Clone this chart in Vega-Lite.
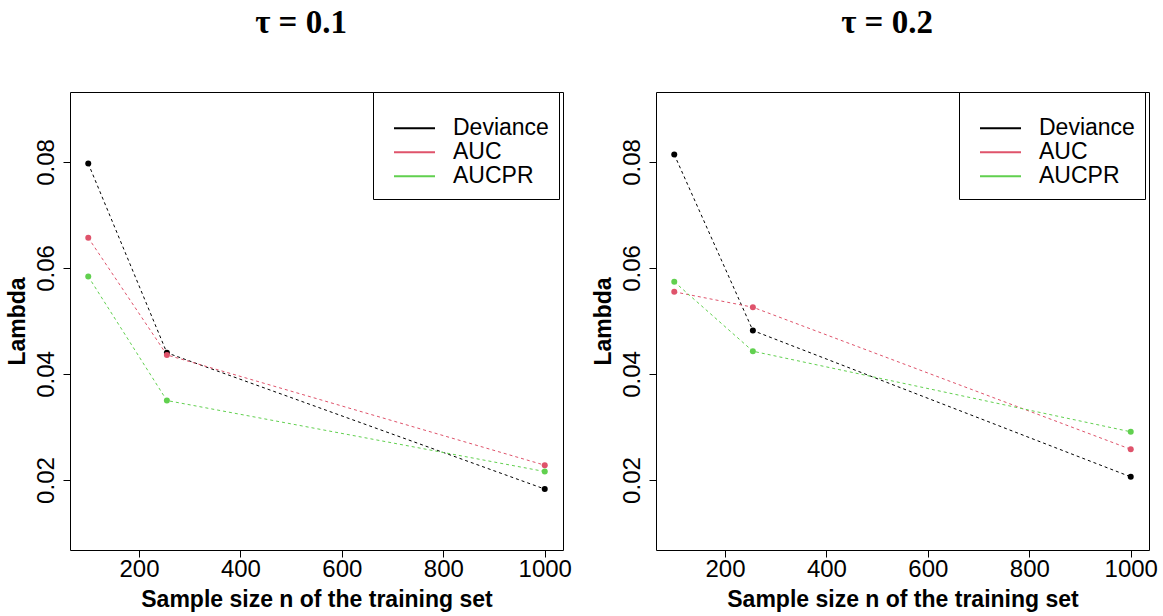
{
  "$schema": "https://vega.github.io/schema/vega-lite/v6.json",
  "background": "white",
  "padding": {"left": 5, "top": 6, "right": 5, "bottom": 5},
  "bounds": "flush",
  "spacing": 93,
  "datasets": {
    "tau01": [
      {"method": "Deviance", "n": 100, "lambda": 0.0797},
      {"method": "Deviance", "n": 255, "lambda": 0.0440},
      {"method": "Deviance", "n": 1000, "lambda": 0.0183},
      {"method": "AUC", "n": 100, "lambda": 0.0657},
      {"method": "AUC", "n": 255, "lambda": 0.0436},
      {"method": "AUC", "n": 1000, "lambda": 0.0228},
      {"method": "AUCPR", "n": 100, "lambda": 0.0584},
      {"method": "AUCPR", "n": 255, "lambda": 0.0350},
      {"method": "AUCPR", "n": 1000, "lambda": 0.0216}
    ],
    "tau02": [
      {"method": "Deviance", "n": 100, "lambda": 0.0814},
      {"method": "Deviance", "n": 255, "lambda": 0.0482},
      {"method": "Deviance", "n": 1000, "lambda": 0.0206},
      {"method": "AUC", "n": 100, "lambda": 0.0555},
      {"method": "AUC", "n": 255, "lambda": 0.0526},
      {"method": "AUC", "n": 1000, "lambda": 0.0258},
      {"method": "AUCPR", "n": 100, "lambda": 0.0574},
      {"method": "AUCPR", "n": 255, "lambda": 0.0443},
      {"method": "AUCPR", "n": 1000, "lambda": 0.0291}
    ]
  },
  "resolve": {"legend": {"stroke": "independent"}},
  "hconcat": [
    {
      "data": {"name": "tau01"},
      "width": 493,
      "height": 458,
      "title": {"text": "τ  =  0.1", "font": "Liberation Serif", "fontSize": 33, "fontWeight": "bold", "color": "black", "anchor": "middle", "baseline": "alphabetic", "offset": 26, "dx": -15.5},
      "encoding": {
        "x": {"field": "n", "type": "quantitative", "scale": {"domain": [64, 1036], "nice": false, "zero": false},
              "axis": {"values": [200, 400, 600, 800, 1000], "format": "d", "title": "Sample size n of the training set"}},
        "y": {"field": "lambda", "type": "quantitative", "scale": {"domain": [0.0068, 0.0932], "nice": false, "zero": false},
              "axis": {"values": [0.02, 0.04, 0.06, 0.08], "format": ".2f", "title": "Lambda"}}
      },
      "layer": [
        {
          "mark": {"type": "line", "strokeWidth": 1, "strokeDash": [3, 3]},
          "encoding": {
            "stroke": {"field": "method", "type": "nominal",
              "scale": {"domain": ["Deviance", "AUC", "AUCPR"], "range": ["#000000", "#DF536B", "#61D04F"]},
              "legend": {"orient": "none", "legendX": 303, "legendY": 0, "title": "Method", "titleFontSize": 2, "titleColor": "white", "titlePadding": 13}},
            "order": {"field": "n", "type": "quantitative"}
          }
        },
        {
          "mark": {"type": "point", "filled": true, "opacity": 1, "size": 36, "strokeWidth": 0},
          "encoding": {
            "fill": {"field": "method", "type": "nominal",
              "scale": {"domain": ["Deviance", "AUC", "AUCPR"], "range": ["#000000", "#DF536B", "#61D04F"]},
              "legend": null}
          }
        }
      ]
    },
    {
      "data": {"name": "tau02"},
      "width": 493,
      "height": 458,
      "title": {"text": "τ  =  0.2", "font": "Liberation Serif", "fontSize": 33, "fontWeight": "bold", "color": "black", "anchor": "middle", "baseline": "alphabetic", "offset": 26, "dx": -15.5},
      "encoding": {
        "x": {"field": "n", "type": "quantitative", "scale": {"domain": [64, 1036], "nice": false, "zero": false},
              "axis": {"values": [200, 400, 600, 800, 1000], "format": "d", "title": "Sample size n of the training set"}},
        "y": {"field": "lambda", "type": "quantitative", "scale": {"domain": [0.0068, 0.0932], "nice": false, "zero": false},
              "axis": {"values": [0.02, 0.04, 0.06, 0.08], "format": ".2f", "title": "Lambda"}}
      },
      "layer": [
        {
          "mark": {"type": "line", "strokeWidth": 1, "strokeDash": [3, 3]},
          "encoding": {
            "stroke": {"field": "method", "type": "nominal",
              "scale": {"domain": ["Deviance", "AUC", "AUCPR"], "range": ["#000000", "#DF536B", "#61D04F"]},
              "legend": {"orient": "none", "legendX": 303, "legendY": 0, "title": "Method", "titleFontSize": 2, "titleColor": "white", "titlePadding": 13}},
            "order": {"field": "n", "type": "quantitative"}
          }
        },
        {
          "mark": {"type": "point", "filled": true, "opacity": 1, "size": 36, "strokeWidth": 0},
          "encoding": {
            "fill": {"field": "method", "type": "nominal",
              "scale": {"domain": ["Deviance", "AUC", "AUCPR"], "range": ["#000000", "#DF536B", "#61D04F"]},
              "legend": null}
          }
        }
      ]
    }
  ],
  "config": {
    "view": {"stroke": "black", "strokeWidth": 1, "fill": "white"},
    "font": "Liberation Sans",
    "axis": {
      "domain": false, "grid": false,
      "tickColor": "black", "tickSize": 7, "tickWidth": 1,
      "labelFont": "Liberation Sans", "labelFontSize": 24, "labelColor": "black",
      "titleFont": "Liberation Sans", "titleFontSize": 23, "titleFontWeight": "bold", "titleColor": "black"
    },
    "axisX": {"labelPadding": 0, "titleBaseline": "alphabetic", "titleY": 56, "labelFlush": false},
    "axisY": {"labelAngle": 270, "labelAlign": "center", "labelBaseline": "alphabetic", "labelPadding": 10,
              "titleAngle": 270, "titleAlign": "center", "titleBaseline": "alphabetic", "titleX": -46, "titleY": 229},
    "legend": {
      "fillColor": "white", "strokeColor": "black", "strokeWidth": 1,
      "padding": 10, "symbolOffset": 10,
      "symbolType": "stroke", "symbolSize": 1681, "symbolStrokeWidth": 2, "symbolDash": [1, 0],
      "clipHeight": 22.7, "rowPadding": 0,
      "labelFont": "Liberation Sans", "labelFontSize": 23, "labelColor": "black", "labelOffset": 17,
      "cornerRadius": 0
    }
  }
}
